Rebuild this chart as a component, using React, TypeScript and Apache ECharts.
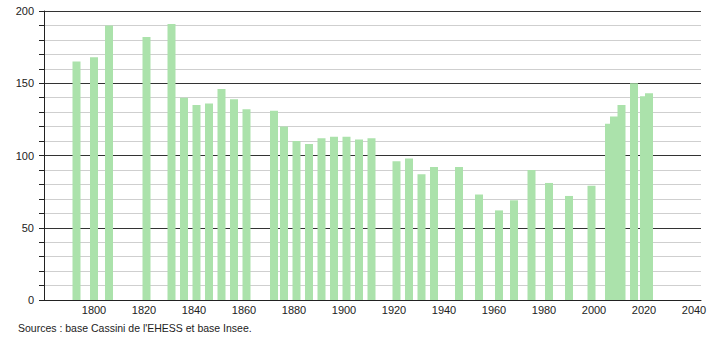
import React, { useEffect, useRef } from "react";
import * as echarts from "echarts";

const years = [
  1793, 1800, 1806, 1821, 1831, 1836, 1841, 1846, 1851, 1856, 1861, 1872, 1876,
  1881, 1886, 1891, 1896, 1901, 1906, 1911, 1921, 1926, 1931, 1936, 1946, 1954,
  1962, 1968, 1975, 1982, 1990, 1999, 2006, 2008, 2011, 2016, 2020, 2022,
];
const population = [
  165, 168, 190, 182, 191, 140, 135, 136, 146, 139, 132, 131, 120,
  110, 108, 112, 113, 113, 111, 112, 96, 98, 87, 92, 92, 73,
  62, 69, 90, 81, 72, 79, 122, 127, 135, 150, 141, 143,
];
const yTicks = [0, 50, 100, 150, 200];
const xLabelYears = [1800, 1820, 1840, 1860, 1880, 1900, 1920, 1940, 1960, 1980, 2000, 2020, 2040];
const sourceText = "Sources : base Cassini de l'EHESS et base Insee.";

export default function App() {
  const ref = useRef<HTMLDivElement>(null);
  useEffect(() => {
    document.body.style.margin = "0";
    if (!ref.current) return;
    const chart = echarts.init(ref.current, null, { renderer: "svg" });
    const font = "'Liberation Sans', Arial, sans-serif";
    chart.setOption({
      animation: false,
      backgroundColor: "#ffffff",
      grid: { left: 44, right: 9, top: 11, bottom: 40, containLabel: false },
      xAxis: {
        type: "value",
        min: 1780,
        max: 2042.8,
        interval: 20,
        axisLine: { show: true, lineStyle: { color: "#222", width: 1 } },
        axisTick: { show: false },
        splitLine: { show: false },
        axisLabel: {
          color: "#222",
          fontFamily: font,
          fontSize: 11,
          margin: 4,
          showMinLabel: false,
          showMaxLabel: false,
          formatter: (v: number) => (xLabelYears.includes(v) ? String(v) : ""),
        },
      },
      yAxis: {
        type: "value",
        min: yTicks[0],
        max: yTicks[yTicks.length - 1],
        interval: 50,
        axisLine: { show: true, lineStyle: { color: "#222", width: 1 } },
        axisTick: { show: true, length: 5, lineStyle: { color: "#222" } },
        minorTick: { show: true, splitNumber: 5, length: 5, lineStyle: { color: "#222" } },
        splitLine: { show: true, lineStyle: { color: "#333", width: 1 } },
        minorSplitLine: { show: true, lineStyle: { color: "#cfcfcf", width: 1 } },
        axisLabel: { color: "#222", fontFamily: font, fontSize: 11, margin: 10 },
      },
      series: [
        {
          type: "bar",
          barWidth: 8,
          itemStyle: { color: "#abe2ab" },
          data: years.map((y, i) => [y, population[i]]),
          z: 3,
        },
      ],
      graphic: [
        {
          type: "text",
          left: 18,
          top: 322,
          style: { text: sourceText, fill: "#222", font: `10.5px ${font}` },
        },
      ],
    });
    return () => chart.dispose();
  }, []);
  return <div ref={ref} style={{ width: 710, height: 340 }} />;
}
